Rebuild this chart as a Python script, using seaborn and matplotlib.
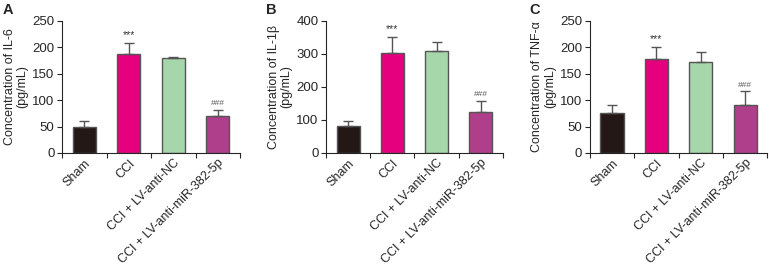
import pandas as pd
import numpy as np
import matplotlib
matplotlib.use("Agg")
import matplotlib.pyplot as plt
import seaborn as sns

# Data
groups = ["Sham", "CCI", "CCI + LV-anti-NC", "CCI + LV-anti-miR-382-5p"]
colors = ["#231816", "#E5007E", "#A6D7AB", "#AF3F8A"]

il6_mean = [50, 187, 180, 70]
il6_err = [11, 21, 2, 12]
il1b_mean = [83, 302, 310, 123]
il1b_err = [15, 48, 25, 34]
tnf_mean = [76, 178, 172, 91]
tnf_err = [15, 22, 19, 26]

panels = [
    ("A", "Concentration of IL-6\n(pg/mL)", il6_mean, il6_err, 250, 50),
    ("B", "Concentration of IL-1\u03b2\n(pg/mL)", il1b_mean, il1b_err, 400, 100),
    ("C", "Concentration of TNF-\u03b1\n(pg/mL)", tnf_mean, tnf_err, 250, 50),
]
axes_pos = [
    [0.081, 0.423, 0.231, 0.498],
    [0.424, 0.423, 0.230, 0.498],
    [0.767, 0.423, 0.231, 0.498],
]

sns.set_style("ticks")
plt.rcParams['font.family'] = ['Liberation Sans', 'DejaVu Sans']

fig = plt.figure(figsize=(7.69, 2.65), dpi=100)

for (letter, ylabel, mean, err, ymax, step), pos in zip(panels, axes_pos):
    ax = fig.add_axes(pos)
    df = pd.DataFrame({"group": groups, "value": mean})
    sns.barplot(data=df, x="group", y="value", hue="group", palette=colors,
                dodge=False, legend=False, width=0.52, errorbar=None,
                saturation=1, edgecolor="#555555", linewidth=1.0, ax=ax)
    x = np.arange(len(groups))
    ax.errorbar(x, mean, yerr=[np.zeros(len(err)), err], fmt="none",
                ecolor="#555555", elinewidth=1.0, capsize=3.5, capthick=1.0)
    tops = [m + e for m, e in zip(mean, err)]
    ax.text(1, tops[1] + ymax * 0.025, "***", ha="center", va="bottom",
            fontsize=7.5, color="#333333")
    ax.text(3, tops[3] + ymax * 0.02, "###", ha="center", va="bottom",
            fontsize=6, color="#555555")

    ax.set_xlim(-0.5, 3.5)
    ax.set_ylim(0, ymax)
    ax.set_yticks(np.arange(0, ymax + 1, step))
    ax.set_xticks(x)
    ax.set_xticklabels(groups, rotation=45, ha="right", rotation_mode="anchor",
                       fontsize=9)
    ax.tick_params(axis="x", length=0, pad=3)
    ax.set_xticks(np.arange(-0.5, 4, 1), minor=True)
    ax.tick_params(axis="x", which="minor", length=3.5, width=0.8)
    ax.tick_params(axis="y", labelsize=9.5, length=3.5, width=0.8, pad=2)
    ax.set_xlabel("")
    ax.set_ylabel(ylabel, fontsize=9, labelpad=3, linespacing=1.05)
    for s in ["left", "bottom"]:
        ax.spines[s].set_linewidth(0.8)
    sns.despine(ax=ax)
    fig.text(pos[0] - 0.078, 0.99, letter, fontsize=10.5, fontweight="bold",
             ha="left", va="top")

fig.savefig("out.png", dpi=100)
